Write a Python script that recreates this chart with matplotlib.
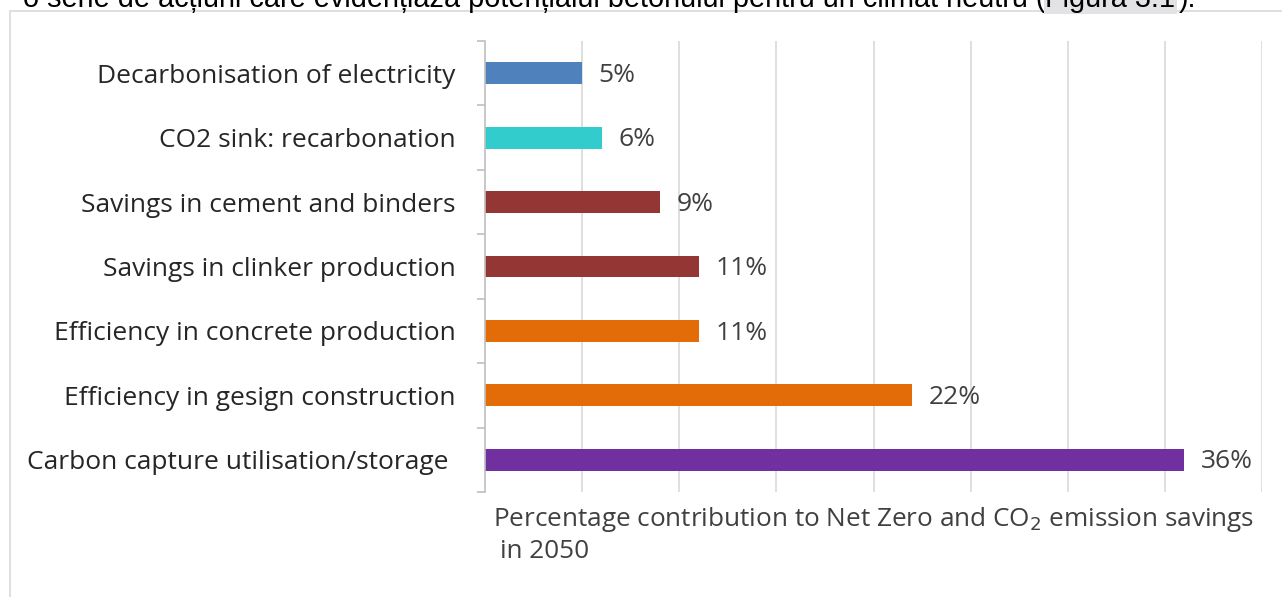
import numpy as np
import matplotlib.pyplot as plt
from matplotlib.patches import Rectangle

# actions and their share of savings (%), top to bottom
actions = [
    'Decarbonisation of electricity',
    'CO2 sink: recarbonation',
    'Savings in cement and binders',
    'Savings in clinker production',
    'Efficiency in concrete production',
    'Efficiency in gesign construction',
    'Carbon capture utilisation/storage ',
]
shares = [5, 6, 9, 11, 11, 22, 36]
bar_colors = ['#4F81BD', '#33CCCC', '#943634', '#943634', '#E36C09', '#E36C09', '#7030A0']

label_font = 'Open Sans'
fs = 19
text_col = '#404040'

fig = plt.figure(figsize=(12.82, 5.97), dpi=100)
W, H = 1282, 597

# frame of the embedded chart
fig.patches.append(Rectangle((10 / W, -0.1), 1.2, 1 - 11 / H + 0.1,
                             transform=fig.transFigure, fill=False,
                             edgecolor='#D9D9D9', linewidth=1.2))

# body text line above the chart, cut off by the page edge
renderer = fig.canvas.get_renderer()
x0 = 23
base = 1 - 7 / H
pieces = [('o serie de acțiuni care evidențiază potențialul betonului pentru un climat neutru (', None),
          ('Figura 3.1', '#E3E3E6'),
          (').', None)]
for s, bg in pieces:
    kw = dict(family='Liberation Sans', fontsize=20.8, color='black', va='baseline')
    if bg:
        kw['bbox'] = dict(facecolor=bg, edgecolor='none', pad=1)
    t = fig.text(x0 / W, base, s, **kw)
    x0 = t.get_window_extent(renderer).x1 + (3 if bg else 0)

ax = fig.add_axes([485 / W, 1 - 492 / H, (1262 - 485) / W, (492 - 41) / H])
y = np.arange(len(actions))
ax.barh(y, shares, height=0.34, color=bar_colors)
ax.set_ylim(len(actions) - 0.5, -0.5)
ax.set_xlim(0, 40)
ax.set_xticks(np.arange(5, 41, 5))
ax.grid(axis='x', color='#D9D9D9', linewidth=1.2)
ax.set_axisbelow(True)
ax.tick_params(axis='x', length=0, labelbottom=False)

ax.set_yticks(y)
ax.set_yticklabels(actions, family=label_font, fontsize=fs, color='#262626')
ax.set_yticks(np.arange(-0.5, len(actions), 1), minor=True)
ax.tick_params(axis='y', which='major', length=0, pad=21)
ax.tick_params(axis='y', which='minor', length=6, color='#BFBFBF', width=1.2)

for s in ['top', 'right', 'bottom']:
    ax.spines[s].set_visible(False)
ax.spines['left'].set_color('#BFBFBF')
ax.spines['left'].set_linewidth(1.2)

for yi, v in zip(y, shares):
    ax.annotate(f'{v}%', (v, yi), xytext=(12, -1.5), textcoords='offset points',
                va='center', ha='left', family=label_font, fontsize=fs,
                color=text_col)

fig.text(493 / W, 1 - 519 / H,
         'Percentage contribution to Net Zero and CO$_2$ emission savings',
         family=label_font, fontsize=18.8, color=text_col, va='center')
fig.text(500 / W, 1 - 552 / H, 'in 2050',
         family=label_font, fontsize=18.8, color=text_col, va='center')

fig.savefig('out.png', dpi=100)
